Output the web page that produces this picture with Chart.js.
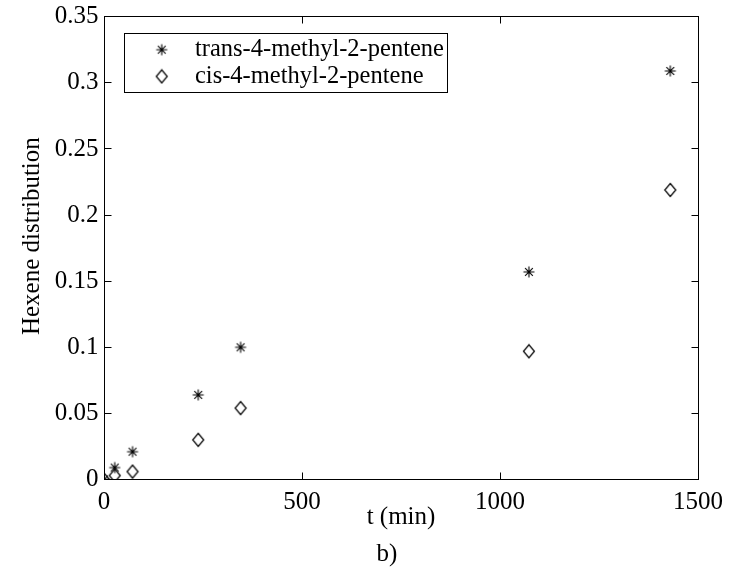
<!DOCTYPE html>
<html>
<head>
<meta charset="utf-8">
<script src="https://cdn.jsdelivr.net/npm/chart.js@4.4.1/dist/chart.umd.min.js"></script>
<style>
html, body { margin: 0; padding: 0; background: #ffffff; }
#wrap { width: 733px; height: 581px; }
</style>
</head>
<body>
<div id="wrap"><canvas id="c" width="733" height="581"></canvas></div>
<script>
// ---- data ----
const timeMin = [0, 27, 72, 238, 345, 1073, 1430];
const transValues = [0, 0.009, 0.021, 0.064, 0.100, 0.157, 0.309];
const cisValues = [0, 0.003, 0.006, 0.030, 0.054, 0.097, 0.219];
const seriesNames = ['trans-4-methyl-2-pentene', 'cis-4-methyl-2-pentene'];
const xTickValues = [0, 500, 1000, 1500];
const xTickLabels = ['0', '500', '1000', '1500'];
const yTickValues = [0, 0.05, 0.1, 0.15, 0.2, 0.25, 0.3, 0.35];
const yTickLabels = ['0', '0.05', '0.1', '0.15', '0.2', '0.25', '0.3', '0.35'];
const xTitle = 't (min)';
const yTitle = 'Hexene distribution';
const panelLabel = 'b)';

const FONT = "'Times New Roman', Times, serif";

function makeDiamond() {
  const c = document.createElement('canvas');
  c.width = 14; c.height = 16;
  const g = c.getContext('2d');
  g.strokeStyle = '#000';
  g.lineWidth = 1.2;
  g.beginPath();
  g.moveTo(7, 1.5); g.lineTo(12.5, 8); g.lineTo(7, 14.5); g.lineTo(1.5, 8);
  g.closePath();
  g.stroke();
  return c;
}
function makeStar() {
  const c = document.createElement('canvas');
  c.width = 14; c.height = 14;
  const g = c.getContext('2d');
  g.strokeStyle = '#000';
  g.lineWidth = 1.1;
  const r = 5.5, d = r * Math.SQRT1_2, cx = 7, cy = 7;
  g.beginPath();
  g.moveTo(cx - r, cy); g.lineTo(cx + r, cy);
  g.moveTo(cx, cy - r); g.lineTo(cx, cy + r);
  g.moveTo(cx - d, cy - d); g.lineTo(cx + d, cy + d);
  g.moveTo(cx - d, cy + d); g.lineTo(cx + d, cy - d);
  g.stroke();
  return c;
}
const diamond = makeDiamond();
const star = makeStar();

const frame = {
  id: 'frame',
  afterLayout(chart) {
    const l = chart.legend, a = chart.chartArea;
    if (!l) return;
    const nl = a.left + 34.5, nt = a.top + 18.5;
    const dx = nl - l.left, dy = nt - l.top;
    l.left += dx; l.right += dx; l.top += dy; l.bottom += dy;
  },
  afterDraw(chart) {
    const { ctx, chartArea: a, scales: { x, y } } = chart;
    const snap = v => Math.floor(v) + 0.5;
    ctx.save();
    ctx.strokeStyle = '#000';
    ctx.lineWidth = 1;
    const L = snap(a.left), R = snap(a.right), T = snap(a.top), B = snap(a.bottom);
    ctx.strokeRect(L, T, R - L, B - T);
    const tl = 7;
    ctx.beginPath();
    x.ticks.forEach(t => {
      const px = snap(x.getPixelForValue(t.value));
      ctx.moveTo(px, B); ctx.lineTo(px, B - tl);
      ctx.moveTo(px, T); ctx.lineTo(px, T + tl);
    });
    y.ticks.forEach(t => {
      const py = snap(y.getPixelForValue(t.value));
      ctx.moveTo(L, py); ctx.lineTo(L + tl, py);
      ctx.moveTo(R, py); ctx.lineTo(R - tl, py);
    });
    ctx.stroke();

    // legend frame
    const l = chart.legend;
    if (l) {
      ctx.font = '24.5px ' + FONT;
      let maxW = 0;
      l.legendItems.forEach(it => { maxW = Math.max(maxW, ctx.measureText(it.text).width); });
      const textStart = l.left + 2.2 + 42 + 12.25;
      const x0 = snap(l.left - 14.5), y0 = snap(l.top - 1.5);
      const x1 = snap(textStart + maxW + 4), y1 = snap(l.top + 57.5);
      ctx.strokeRect(x0, y0, x1 - x0, y1 - y0);
    }

    ctx.fillStyle = '#000';
    ctx.font = '25px ' + FONT;
    // y-axis title (rotated, centred slightly above the plot middle as in the reference)
    ctx.save();
    ctx.translate(32.6, (a.top + a.bottom) / 2 - 12);
    ctx.rotate(-Math.PI / 2);
    ctx.textAlign = 'center';
    ctx.textBaseline = 'middle';
    ctx.fillText(yTitle, 0, 0);
    ctx.restore();

    // panel label
    ctx.textAlign = 'center';
    ctx.textBaseline = 'alphabetic';
    ctx.fillText(panelLabel, (a.left + a.right) / 2 - 14, 561);
    ctx.restore();
  }
};

new Chart(document.getElementById('c'), {
  type: 'scatter',
  data: {
    datasets: [
      {
        label: seriesNames[0],
        data: timeMin.map((t, i) => ({ x: t, y: transValues[i] })),
        pointStyle: star,
        pointRadius: 6,
        borderColor: '#000',
        backgroundColor: '#000',
        borderWidth: 1
      },
      {
        label: seriesNames[1],
        data: timeMin.map((t, i) => ({ x: t, y: cisValues[i] })),
        pointStyle: diamond,
        pointRadius: 6,
        borderColor: '#000',
        backgroundColor: 'rgba(0,0,0,0)',
        borderWidth: 1
      }
    ]
  },
  options: {
    responsive: false,
    animation: false,
    devicePixelRatio: 1,
    layout: { padding: { left: 0, right: 35, top: 12, bottom: 0 } },
    scales: {
      x: {
        type: 'linear',
        min: 0, max: 1500,
        afterBuildTicks: s => { s.ticks = xTickValues.map(v => ({ value: v })); },
        afterFit: s => { s.height = 101.5; },
        grid: { display: false, drawTicks: false },
        border: { display: false },
        ticks: {
          padding: 8, color: '#000', maxRotation: 0, autoSkip: false,
          font: { family: FONT, size: 25, lineHeight: 1.2 },
          callback: (v, i) => xTickLabels[i]
        },
        title: {
          display: true, text: xTitle, color: '#000',
          font: { family: FONT, size: 25, lineHeight: 1.2 },
          padding: { top: 0, bottom: 49 }
        }
      },
      y: {
        type: 'linear',
        min: 0, max: 0.35,
        afterBuildTicks: s => { s.ticks = yTickValues.map(v => ({ value: v })); },
        afterFit: s => { s.width = 104; },
        grid: { display: false, drawTicks: false },
        border: { display: false },
        ticks: {
          padding: 5.5, color: '#000', autoSkip: false,
          font: { family: FONT, size: 25, lineHeight: 0.9 },
          callback: (v, i) => yTickLabels[i]
        },
        title: { display: false, text: yTitle }
      }
    },
    plugins: {
      legend: {
        position: 'chartArea',
        align: 'start',
        labels: {
          usePointStyle: true,
          pointStyleWidth: 42,
          boxHeight: 7.5,
          padding: 2.2,
          color: '#000',
          font: { family: FONT, size: 24.5 }
        }
      },
      tooltip: { enabled: false }
    }
  },
  plugins: [frame]
});
</script>
</body>
</html>
